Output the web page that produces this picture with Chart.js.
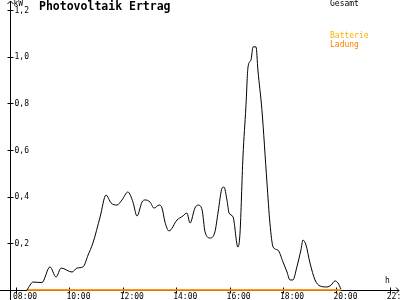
<!DOCTYPE html>
<html>
<head>
<meta charset="utf-8">
<script src="https://cdn.jsdelivr.net/npm/chart.js@4"></script>
<style>
  html, body { margin: 0; padding: 0; background: #fff; }
  #chart { display: block; }
</style>
</head>
<body>
<canvas id="chart" width="400" height="300"></canvas>
<script>
// Messzeiten (Stunden) und Leistung Gesamt in kW
const zeiten = [
  8.41, 8.64, 8.97, 9.27, 9.50, 9.69, 10.10, 10.28, 10.51, 10.70,
  10.88, 11.15, 11.37, 11.56, 11.78, 11.97, 12.19, 12.38, 12.53, 12.72,
  12.83, 13.02, 13.17, 13.36, 13.47, 13.58, 13.73, 14.03, 14.25, 14.40,
  14.52, 14.70, 14.82, 14.97, 15.08, 15.27, 15.45, 15.57, 15.72, 15.79,
  15.90, 15.98, 16.13, 16.31, 16.39, 16.50, 16.61, 16.69, 16.80, 16.88,
  16.99, 17.06, 17.21, 17.40, 17.51, 17.63, 17.81, 18.00, 18.15, 18.26,
  18.37, 18.52, 18.67, 18.75, 18.86, 19.01, 19.20, 19.39, 19.65, 19.80,
  19.95, 20.06, 20.17,
];
const gesamt = [
  0.000, 0.034, 0.032, 0.099, 0.056, 0.094, 0.077, 0.094, 0.099, 0.150,
  0.201, 0.313, 0.407, 0.373, 0.364, 0.386, 0.420, 0.377, 0.317, 0.377,
  0.386, 0.377, 0.351, 0.364, 0.351, 0.291, 0.253, 0.300, 0.317, 0.330,
  0.287, 0.351, 0.364, 0.343, 0.249, 0.223, 0.249, 0.334, 0.437, 0.441,
  0.386, 0.330, 0.313, 0.184, 0.244, 0.570, 0.784, 0.956, 0.986, 1.042,
  1.042, 0.943, 0.772, 0.459, 0.287, 0.184, 0.171, 0.120, 0.077, 0.043,
  0.043, 0.099, 0.171, 0.214, 0.193, 0.116, 0.043, 0.017, 0.013, 0.021,
  0.039, 0.030, 0.004,
];

// Batterie / Ladung: den ganzen Tag 0
const batterieZeiten = [8.41, 20.17];
const batterie = [0, 0];
const ladungZeiten = [8.41, 20.17];
const ladung = [0, 0];

// Achsenbeschriftung
const xTicks = [8, 10, 12, 14, 16, 18, 20, 22];
const xTickLabels = ['08:00', '10:00', '12:00', '14:00', '16:00', '18:00', '20:00', '22:00'];
const yTicks = [0.2, 0.4, 0.6, 0.8, 1.0, 1.2];
const yTickLabels = ['0,2', '0,4', '0,6', '0,8', '1,0', '1,2'];

const SMALL = '8px "DejaVu Sans Mono", monospace';

const toPoints = (xs, ys) => xs.map((x, i) => ({ x, y: ys[i] }));

// Achsen mit Pfeilen, Ticks und Texten selbst zeichnen
const axesPlugin = {
  id: 'axes',
  beforeDatasetsDraw(chart) {
    const { ctx, scales: { x, y } } = chart;
    const x0 = Math.round(x.getPixelForValue(x.min)) + 0.5;
    const y0 = Math.round(y.getPixelForValue(0)) + 0.5;
    ctx.save();
    ctx.strokeStyle = '#000';
    ctx.lineWidth = 1;
    ctx.beginPath();
    // y-Achse mit Pfeil
    ctx.moveTo(x0, 300); ctx.lineTo(x0, 1);
    ctx.moveTo(x0 - 3, 4); ctx.lineTo(x0, 1); ctx.lineTo(x0 + 3, 4);
    // x-Achse mit Pfeil
    ctx.moveTo(0, y0); ctx.lineTo(399, y0);
    ctx.moveTo(396, y0 - 3); ctx.lineTo(399, y0); ctx.lineTo(396, y0 + 3);
    yTicks.forEach(v => {
      const py = Math.round(y.getPixelForValue(v)) + 0.5;
      ctx.moveTo(x0 - 3, py); ctx.lineTo(x0 + 3, py);
    });
    xTicks.forEach(h => {
      const px = Math.round(x.getPixelForValue(h)) + 0.5;
      ctx.moveTo(px, y0 - 3); ctx.lineTo(px, y0 + 3);
    });
    ctx.stroke();

    ctx.fillStyle = '#000';
    ctx.font = SMALL;
    ctx.textBaseline = 'middle';
    ctx.textAlign = 'left';
    yTicks.forEach((v, i) => {
      ctx.fillText(yTickLabels[i], x0 + 4, y.getPixelForValue(v) + 0.5);
    });
    xTickLabels.forEach((t, i) => {
      ctx.fillText(t, x.getPixelForValue(xTicks[i]) - 3, y0 + 6);
    });
    ctx.fillText('kW', x0 + 3, 4);
    ctx.fillText('h', 385, 281);

    // Titel
    ctx.font = 'bold 11.5px "DejaVu Sans Mono", monospace';
    ctx.fillText('Photovoltaik Ertrag', 39, 7);

    // Legende rechts oben
    ctx.font = SMALL;
    chart.data.datasets.forEach(ds => {
      ctx.fillStyle = ds.borderColor;
      ctx.fillText(ds.label, 330, ds.legendY);
    });
    ctx.restore();
  },
};

new Chart(document.getElementById('chart'), {
  type: 'line',
  data: {
    datasets: [
      {
        label: 'Gesamt',
        data: toPoints(zeiten, gesamt),
        borderColor: '#000000',
        borderWidth: 1,
        cubicInterpolationMode: 'monotone',
        legendY: 4,
        order: 0,
      },
      {
        label: 'Batterie',
        data: toPoints(batterieZeiten, batterie),
        borderColor: '#ffb000',
        borderWidth: 1,
        legendY: 36,
        order: 2,
      },
      {
        label: 'Ladung',
        data: toPoints(ladungZeiten, ladung),
        borderColor: '#ff8000',
        borderWidth: 1.5,
        legendY: 44.5,
        order: 1,
      },
    ],
  },
  options: {
    responsive: false,
    animation: false,
    events: [],
    layout: { padding: { left: 10, right: 0, top: 10, bottom: 10 } },
    elements: { point: { radius: 0 } },
    datasets: { line: { clip: false, fill: false } },
    plugins: {
      legend: { display: false },
      tooltip: { enabled: false },
    },
    scales: {
      x: { type: 'linear', min: 7.775, max: 22.382, display: false },
      y: { min: 0, max: 1.2, display: false },
    },
  },
  plugins: [axesPlugin],
});
</script>
</body>
</html>
